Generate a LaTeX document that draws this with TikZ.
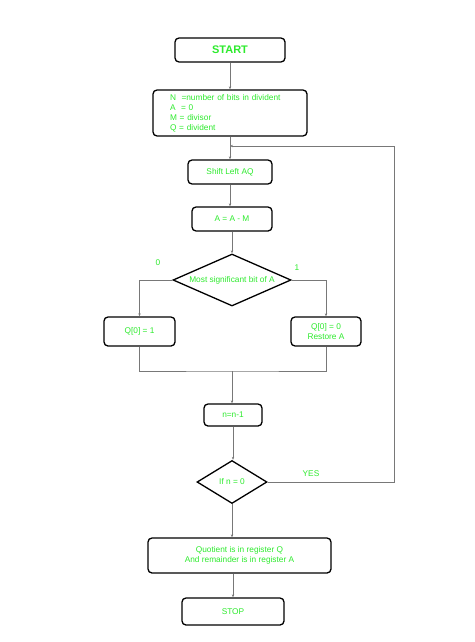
\documentclass[tikz,border=0pt]{standalone}
\usepackage{fontspec}
\setmainfont{Liberation Sans}
\usetikzlibrary{shapes.geometric,arrows.meta}
\definecolor{txtgreen}{RGB}{45,235,45}
\definecolor{linegray}{RGB}{120,120,120}
\begin{document}
\begin{tikzpicture}[x=1pt,y=-1pt,
  box/.style={draw=black,line width=1.3pt,rounded corners=4pt,inner sep=0pt,
    text=txtgreen,font=\fontsize{8.3}{10.5}\selectfont,align=center},
  dia/.style={draw=black,line width=1.3pt,diamond,inner sep=0pt,
    label={[text=txtgreen,font=\fontsize{8.3}{9}\selectfont]center:#1}},
  conn/.style={draw=linegray,line width=0.6pt},
  arr/.style={conn,-{Stealth[length=3pt,width=2.4pt]}},
  lbl/.style={text=txtgreen,font=\fontsize{8.3}{9}\selectfont,inner sep=0pt}]
\useasboundingbox (0,0) rectangle (474,642);
\fill[white] (0,0) rectangle (474,642);

\node[box,minimum width=110pt,minimum height=24pt,font=\fontsize{11}{13}\selectfont\bfseries] (start) at (230,50) {START};
\node[box,minimum width=148pt,minimum height=46pt,text width=120pt,align=left,inner xsep=17pt,
  font=\fontsize{8.3}{10}\selectfont] (init) at (230,113)
  {N\ \ =number of bits in divident\\A\ \ = 0\\M = divisor\\Q = divident};
\node[box,minimum width=84pt,minimum height=24pt] (shift) at (230,172) {Shift Left AQ};
\node[box,minimum width=80pt,minimum height=24pt] (amm) at (232,219) {A = A - M};
\node[dia={Most significant bit of A},minimum width=118pt,minimum height=52pt] (d1) at (232,280) {};
\node[box,minimum width=71pt,minimum height=29pt] (q1) at (139.5,331.5) {Q[0] = 1};
\node[box,minimum width=70pt,minimum height=29pt] (q0) at (326,331.5) {Q[0] = 0\\Restore A};
\node[box,minimum width=58pt,minimum height=22pt] (nm1) at (233,415) {n=n-1};
\node[dia={If n = 0},minimum width=70pt,minimum height=43pt] (d2) at (232,482) {};
\node[box,minimum width=183pt,minimum height=35pt] (quot) at (239.5,555.5) {Quotient is in register Q\\And remainder is in register A};
\node[box,minimum width=102pt,minimum height=27pt] (stop) at (233,611.5) {STOP};

\node[lbl] (l0) at (158,263) {0};
\node[lbl] (l1) at (297,268) {1};
\node[lbl] (lyes) at (311,474) {YES};

\coordinate (mg) at (232,371);
\coordinate (fbc) at (394,146);
\coordinate (fb) at (230,146);

\draw[arr] (start.south) -- (init.north);
\draw[arr] (init.south) -- (shift.north);
\draw[arr] (shift.south) -- (shift.south |- amm.north);
\draw[arr] (amm.south) -- (amm.south |- d1.north);
\draw[arr] (d1.west) -| (q1.north);
\draw[arr] (d1.east) -| (q0.north);
\draw[conn] (q1.south) |- (mg) -| (q0.south);
\draw[arr] (mg) -- (mg |- nm1.north);
\draw[arr] (nm1.south) -- (nm1.south |- d2.north);
\draw[arr] (d2.south) -- (d2.south |- quot.north);
\draw[arr] (quot.south -| stop.north) -- (stop.north);
\draw[arr] (d2.east) -| (fbc) -- (fb);
\end{tikzpicture}
\end{document}
